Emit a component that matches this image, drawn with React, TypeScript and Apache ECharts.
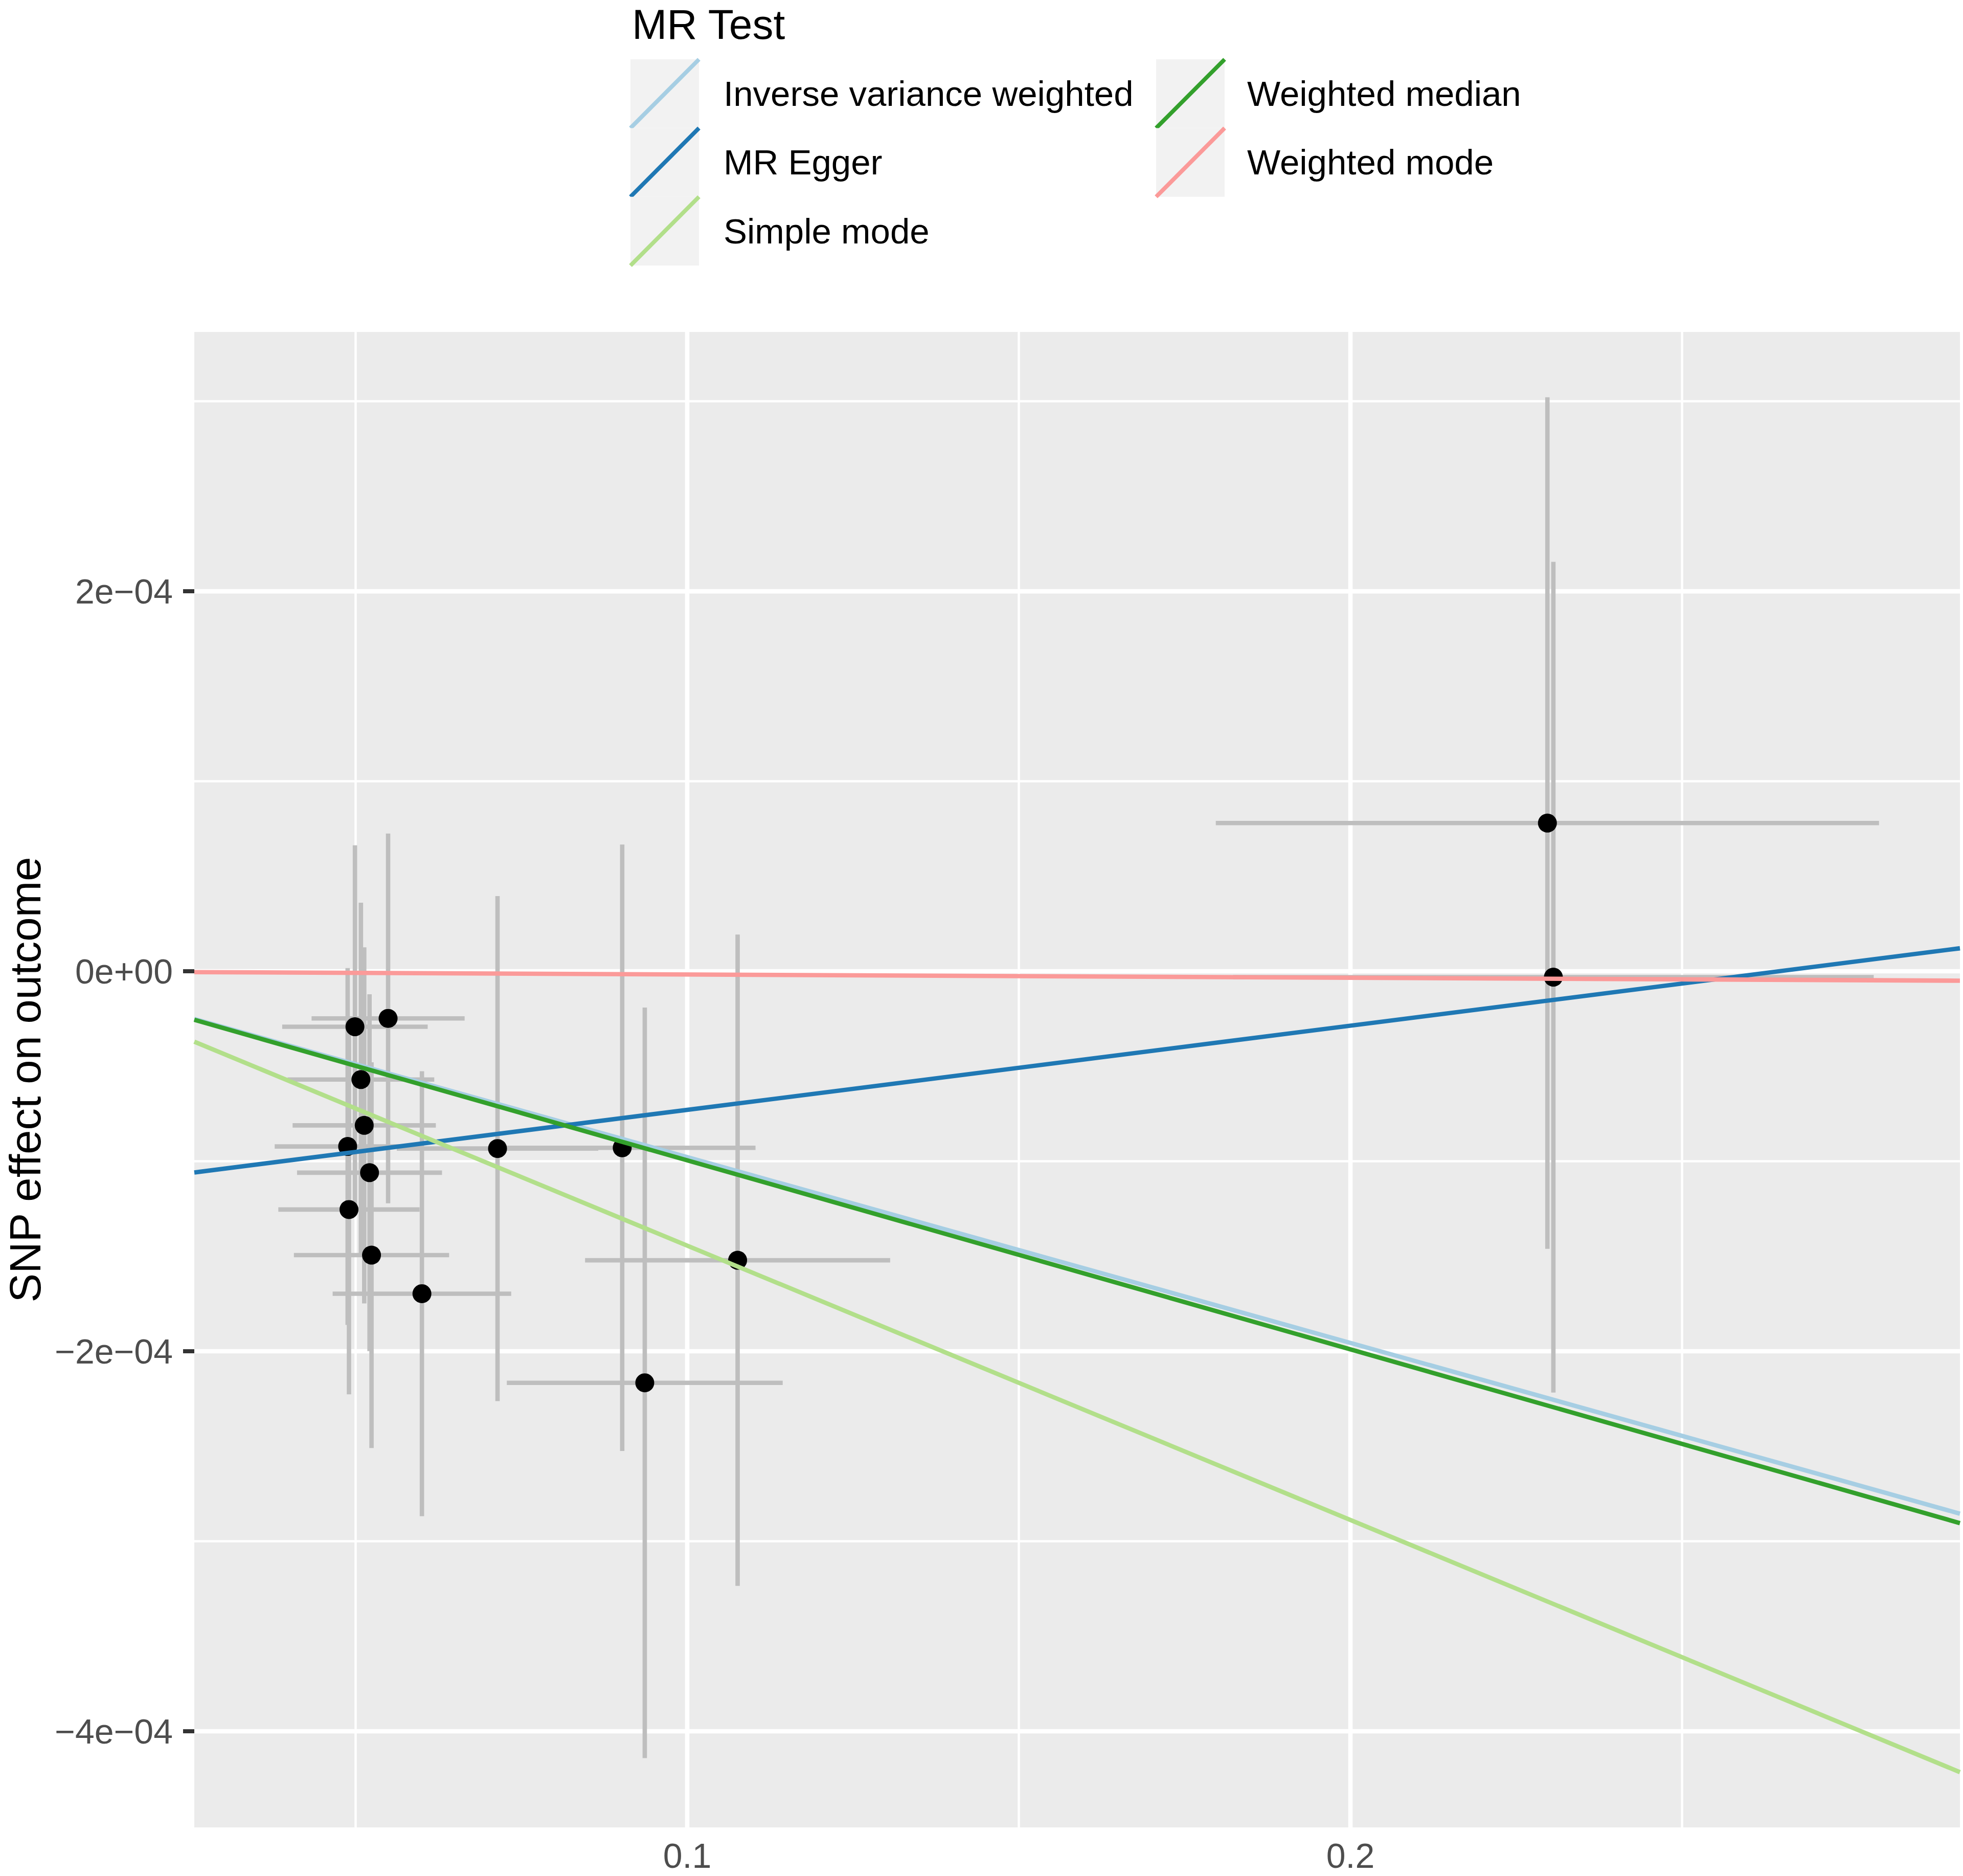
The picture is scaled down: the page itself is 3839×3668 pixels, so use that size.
import React, { useEffect, useRef } from 'react';
import * as echarts from 'echarts';

// ---------- data ----------
const betaExposure = [0.0499, 0.0549, 0.0508, 0.0513, 0.0488, 0.0714, 0.0902, 0.0521, 0.049, 0.0524, 0.06, 0.1076, 0.0936, 0.2297, 0.2306];
const betaOutcome = [-0.292e-4, -0.248e-4, -0.57e-4, -0.811e-4, -0.922e-4, -0.933e-4, -0.929e-4, -1.06e-4, -1.254e-4, -1.494e-4, -1.697e-4, -1.521e-4, -2.166e-4, 0.78e-4, -0.031e-4];
const seExposure = [0.01097, 0.01154, 0.01106, 0.0108, 0.011, 0.01519, 0.0201, 0.01093, 0.01065, 0.0117, 0.01346, 0.023, 0.0208, 0.05, 0.0483];
const seOutcome = [0.955e-4, 0.973e-4, 0.931e-4, 0.937e-4, 0.939e-4, 1.329e-4, 1.596e-4, 0.939e-4, 0.973e-4, 1.015e-4, 1.171e-4, 1.714e-4, 1.975e-4, 2.241e-4, 2.186e-4];

const methodNames = ['Inverse variance weighted', 'MR Egger', 'Simple mode', 'Weighted median', 'Weighted mode'];
const methodColors = ['#a6cee3', '#1f78b4', '#b2df8a', '#33a02c', '#fb9a99'];
const methodIntercepts = [0, -1.1727e-4, 0, 0, 0];
const methodSlopes = [-9.78e-4, 4.432e-4, -1.444e-3, -9.95e-4, -1.7e-5];

const xMin = 0.02568;
const xMax = 0.2919;
const yMin = -4.506e-4;
const yMax = 3.365e-4;

const xTickValues = [0.1, 0.2];
const xTickLabels = ['0.1', '0.2'];
const xMinorGrid = [0.05, 0.15, 0.25];
const yTickValues = [-4e-4, -2e-4, 0, 2e-4];
const yTickLabels = ['\u22124e\u221204', '\u22122e\u221204', '0e+00', '2e\u221204'];
const yMinorGrid = [-3e-4, -1e-4, 1e-4, 3e-4];

const legendTitle = 'MR Test';
const yTitle = 'SNP effect on outcome';

// ---------- layout ----------
const W = 3839;
const H = 3668;
const FONT = '"Liberation Sans", Arial, Helvetica, sans-serif';
const GRID = { left: 380, top: 649, width: 3453, height: 2924 };
const LINE_W = 8.6;

function lookup(values: number[], labels: string[], v: number) {
  for (let i = 0; i < values.length; i++) {
    if (Math.abs(values[i] - v) < 1e-9) return labels[i];
  }
  return '';
}

export default function App() {
  const ref = useRef<HTMLDivElement>(null);

  useEffect(() => {
    if (!ref.current) return;
    const chart = echarts.init(ref.current, null, { renderer: 'svg', width: W, height: H });

    const gridItems: number[][] = [
      ...xMinorGrid.map((v) => [0, v, 0]),
      ...yMinorGrid.map((v) => [1, v, 0]),
      ...xTickValues.map((v) => [0, v, 1]),
      ...yTickValues.map((v) => [1, v, 1]),
    ];

    const pointData = betaExposure.map((x, i) => [x, betaOutcome[i], seExposure[i], seOutcome[i]]);

    const lineSeries = methodNames.map((name, i) => ({
      type: 'line',
      name,
      z: 5,
      showSymbol: false,
      symbol: 'none',
      silent: true,
      clip: true,
      lineStyle: { color: methodColors[i], width: LINE_W, opacity: 1 },
      data: [
        [xMin, methodIntercepts[i] + methodSlopes[i] * xMin],
        [xMax, methodIntercepts[i] + methodSlopes[i] * xMax],
      ],
    }));

    // legend graphics
    const keyX = [1233, 2261];
    const textX = [1415, 2439];
    const keyTop = 116;
    const keyW = 134;
    const keyH = 134.4;
    const legendEls: any[] = [];
    methodNames.forEach((name, i) => {
      const col = i < 3 ? 0 : 1;
      const row = i < 3 ? i : i - 3;
      const y0 = keyTop + row * keyH;
      legendEls.push({
        type: 'rect',
        shape: { x: keyX[col], y: y0, width: keyW, height: keyH },
        style: { fill: '#F2F2F2' },
      });
      legendEls.push({
        type: 'line',
        shape: { x1: keyX[col], y1: y0 + keyH, x2: keyX[col] + keyW, y2: y0 },
        style: { stroke: methodColors[i], lineWidth: 8 },
      });
      legendEls.push({
        type: 'text',
        x: textX[col],
        y: y0 + keyH / 2,
        style: {
          text: name,
          fontSize: 69,
          fontFamily: FONT,
          fill: '#000000',
          align: 'left',
          verticalAlign: 'middle',
        },
      });
    });

    const option: any = {
      animation: false,
      backgroundColor: '#FFFFFF',
      grid: {
        left: GRID.left,
        top: GRID.top,
        width: GRID.width,
        height: GRID.height,
        show: true,
        backgroundColor: '#EBEBEB',
        borderWidth: 0,
        containLabel: false,
      },
      xAxis: {
        type: 'value',
        min: xMin,
        max: xMax,
        axisLine: { show: false },
        splitLine: { show: false },
        minorSplitLine: { show: false },
        axisTick: {
          show: true,
          customValues: xTickValues,
          length: 22,
          lineStyle: { color: '#333333', width: 8 },
        },
        axisLabel: {
          show: true,
          customValues: xTickValues,
          margin: 25,
          fontSize: 68,
          lineHeight: 60,
          fontFamily: FONT,
          color: '#4D4D4D',
          formatter: (v: number) => lookup(xTickValues, xTickLabels, v),
        },
      },
      yAxis: {
        type: 'value',
        min: yMin,
        max: yMax,
        axisLine: { show: false },
        splitLine: { show: false },
        minorSplitLine: { show: false },
        axisTick: {
          show: true,
          customValues: yTickValues,
          length: 22,
          lineStyle: { color: '#333333', width: 8 },
        },
        axisLabel: {
          show: true,
          customValues: yTickValues,
          margin: 42,
          fontSize: 68,
          fontFamily: FONT,
          color: '#4D4D4D',
          formatter: (v: number) => lookup(yTickValues, yTickLabels, v),
        },
      },
      graphic: [
        {
          type: 'text',
          x: 1236,
          y: 47,
          style: {
            text: legendTitle,
            fontSize: 82,
            lineHeight: 66,
            fontFamily: FONT,
            fill: '#000000',
            align: 'left',
            verticalAlign: 'middle',
          },
        },
        ...legendEls,
        {
          type: 'text',
          x: 49,
          y: GRID.top + GRID.height / 2,
          rotation: Math.PI / 2,
          style: {
            text: yTitle,
            fontSize: 85,
            lineHeight: 68,
            fontFamily: FONT,
            fill: '#000000',
            align: 'center',
            verticalAlign: 'middle',
          },
        },
      ],
      series: [
        {
          type: 'custom',
          name: 'grid',
          coordinateSystem: 'cartesian2d',
          silent: true,
          clip: false,
          z: 1,
          encode: { x: 1, y: 1 },
          data: gridItems,
          renderItem: (params: any, api: any) => {
            const flag = api.value(0);
            const v = api.value(1);
            const major = api.value(2);
            const cs = params.coordSys;
            const lw = major ? LINE_W : 4.5;
            if (flag === 0) {
              const px = api.coord([v, yMin])[0];
              return {
                type: 'line',
                shape: { x1: px, y1: cs.y, x2: px, y2: cs.y + cs.height },
                style: { stroke: '#FFFFFF', lineWidth: lw },
              };
            }
            const py = api.coord([xMin, v])[1];
            return {
              type: 'line',
              shape: { x1: cs.x, y1: py, x2: cs.x + cs.width, y2: py },
              style: { stroke: '#FFFFFF', lineWidth: lw },
            };
          },
        },
        {
          type: 'custom',
          name: 'errorbars',
          coordinateSystem: 'cartesian2d',
          silent: true,
          z: 2,
          encode: { x: 0, y: 1 },
          data: pointData,
          renderItem: (params: any, api: any) => {
            const bx = api.value(0);
            const by = api.value(1);
            const sx = api.value(2);
            const sy = api.value(3);
            const v1 = api.coord([bx, by - sy]);
            const v2 = api.coord([bx, by + sy]);
            const h1 = api.coord([bx - sx, by]);
            const h2 = api.coord([bx + sx, by]);
            return {
              type: 'group',
              children: [
                {
                  type: 'line',
                  shape: { x1: v1[0], y1: v1[1], x2: v2[0], y2: v2[1] },
                  style: { stroke: '#BEBEBE', lineWidth: LINE_W },
                },
                {
                  type: 'line',
                  shape: { x1: h1[0], y1: h1[1], x2: h2[0], y2: h2[1] },
                  style: { stroke: '#BEBEBE', lineWidth: LINE_W },
                },
              ],
            };
          },
        },
        {
          type: 'scatter',
          name: 'SNPs',
          z: 3,
          silent: true,
          symbol: 'circle',
          symbolSize: 37,
          itemStyle: { color: '#000000', opacity: 1 },
          data: betaExposure.map((x, i) => [x, betaOutcome[i]]),
        },
        ...lineSeries,
      ],
    };

    chart.setOption(option);
    return () => chart.dispose();
  }, []);

  return (
    <div
      ref={ref}
      style={{ position: 'fixed', left: 0, top: 0, width: W, height: H, background: '#FFFFFF' }}
    />
  );
}
